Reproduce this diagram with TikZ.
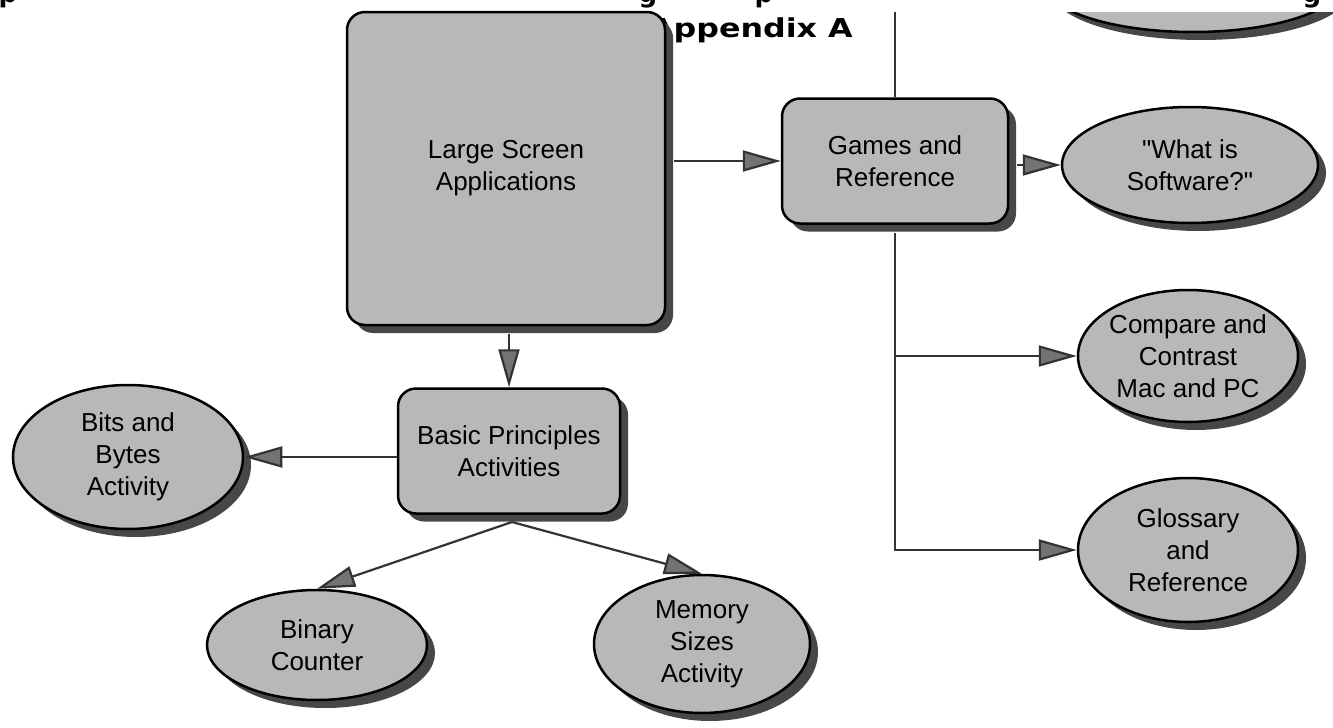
\documentclass[tikz,border=0pt]{standalone}
\usepackage{fontspec}
\setmainfont{Liberation Sans}[Ligatures=TeXOff]
\newfontfamily\titlefont{DejaVu Sans}
\usetikzlibrary{arrows.meta,shapes.geometric}
\begin{document}
\begin{tikzpicture}[x=1pt,y=-1pt,
  shade/.style={preaction={fill=black!72, transform canvas={xshift=8pt,yshift=-8pt}}},
  box/.style={shade, rectangle, draw=black, line width=2.5pt, fill=black!28, rounded corners=18pt,
    align=center, font=\fontsize{26}{32}\selectfont, inner sep=0pt},
  oval/.style={shade, ellipse, draw=black, line width=2.5pt, fill=black!28,
    align=center, font=\fontsize{26}{32}\selectfont, inner xsep=-40pt, inner ysep=-20pt},
  conn/.style={draw=black!80, line width=2.2pt},
  arr/.style={conn, -{Triangle[length=38pt,width=21pt,fill=black!55]}},
  ttl/.style={font=\titlefont\bfseries\fontsize{26}{30}\selectfont, inner sep=0pt}]
\useasboundingbox (0,0) rectangle (1333,728);

% cropped title line fragments
\begin{scope}
\clip (0,0) rectangle (1333,12);
\node[ttl, anchor=base] (fa) at (8,2) {p};
\node[ttl, anchor=base] (fb) at (648,2) {g};
\node[ttl, anchor=base] (fc) at (764,2) {p};
\node[ttl, anchor=base] (fd) at (1312,2) {g};
\end{scope}

% title (its first letter hidden behind the box)
\node[ttl, anchor=base east, xscale=1.22] (title) at (853,37) {Appendix A};

% top-right cropped oval
\begin{scope}
\clip (1000,12) rectangle (1333,100);
\node[oval, minimum width=300pt, minimum height=100pt] (topoval) at (1193,-18) {};
\end{scope}

% nodes
\node[box, minimum width=318pt, minimum height=313pt] (large) at (506,168.5) {Large Screen\\Applications};
\node[box, minimum width=226pt, minimum height=125pt] (games) at (895,161) {Games and\\Reference};
\node[box, minimum width=222pt, minimum height=125pt] (basic) at (509,451) {Basic Principles\\Activities};

\node[oval, minimum width=256pt, minimum height=116pt] (wis) at (1190,165) {"What is\\Software?"};
\node[oval, minimum width=220pt, minimum height=132pt] (comp) at (1188,356) {Compare and\\Contrast\\Mac and PC};
\node[oval, minimum width=220pt, minimum height=144pt] (gloss) at (1188,550) {Glossary\\and\\Reference};
\node[oval, minimum width=230pt, minimum height=144pt] (bits) at (128,457) {Bits and\\Bytes\\Activity};
\node[oval, minimum width=220pt, minimum height=110pt] (binary) at (317,645) {Binary\\Counter};
\node[oval, minimum width=216pt, minimum height=138pt] (memory) at (702,644) {Memory\\Sizes\\Activity};

% connectors
\coordinate (topline) at (895,12);
\coordinate (bs) at (512,522);
\draw[conn] (topline) -- (games.north);
\draw[arr] ([xshift=8pt]large.east |- games.west) -- (games.west);
\draw[arr] ([xshift=8pt]games.east |- wis.west) -- (wis.west);
\draw[arr] ([yshift=-8pt]games.south) |- (gloss.west);
\draw[arr] (games.south |- comp.west) -- (comp.west);
\draw[arr] ([yshift=-8pt]large.south -| basic.north) -- (basic.north);
\draw[arr] (basic.west |- bits.east) -- (bits.east);
\draw[arr] (bs) -- (binary.north);
\draw[arr] (bs) -- (memory.north);
\end{tikzpicture}
\end{document}
